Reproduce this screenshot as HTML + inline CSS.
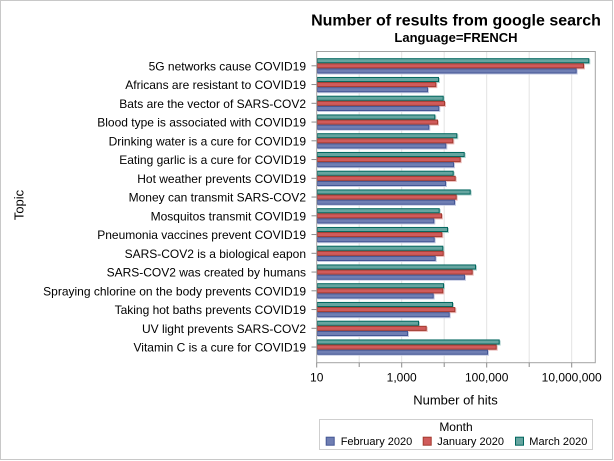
<!DOCTYPE html>
<html><head><meta charset="utf-8"><style>
html,body{margin:0;padding:0;background:#fff;}
svg{display:block;}
text{font-family:"Liberation Sans",Arial,sans-serif;fill:#000;}
.tt{fill:#66a5a0;stroke:#01665e;stroke-width:1;}
.rr{fill:#d05b5b;stroke:#a23a2e;stroke-width:1;}
.bb{fill:#6f7eb3;stroke:#445694;stroke-width:1;}
.ts{fill:#b5d4d1;}
.rs{fill:#ecbcbc;}
.bs{fill:#c5cbe3;}
.lab{font-size:12px;text-anchor:end;}
</style></head><body>
<svg width="614" height="461" viewBox="0 0 614 461" xmlns="http://www.w3.org/2000/svg">
<rect x="0" y="0" width="614" height="461" fill="#fff"/>
<rect x="0.5" y="0.5" width="612" height="459" fill="none" stroke="#c8c8c8" stroke-width="1"/>

<text x="456" y="25.5" font-size="16" font-weight="bold" text-anchor="middle">Number of results from google search</text>
<text x="456" y="42" font-size="13" font-weight="bold" text-anchor="middle">Language=FRENCH</text>

<g stroke="#e3e3e3" stroke-width="1">
<line x1="359.2" y1="52" x2="359.2" y2="362.5"/>
<line x1="401.7" y1="52" x2="401.7" y2="362.5"/>
<line x1="444.2" y1="52" x2="444.2" y2="362.5"/>
<line x1="486.7" y1="52" x2="486.7" y2="362.5"/>
<line x1="529.2" y1="52" x2="529.2" y2="362.5"/>
<line x1="571.7" y1="52" x2="571.7" y2="362.5"/>
</g>

<g id="bars">
<g transform="translate(0,65.8)">
<rect class="ts" x="317.7" y="-6.6" width="272.6" height="5.1"/><rect class="tt" x="317.2" y="-7.1" width="271.6" height="4.1"/>
<rect class="rs" x="317.7" y="-1.5" width="267.3" height="5.1"/><rect class="rr" x="317.2" y="-2.0" width="266.3" height="4.1"/>
<rect class="bs" x="317.7" y="3.6" width="260" height="5.1"/><rect class="bb" x="317.2" y="3.1" width="259" height="4.1"/>
</g>
<g transform="translate(0,84.55)">
<rect class="ts" x="317.7" y="-6.6" width="122.3" height="5.1"/><rect class="tt" x="317.2" y="-7.1" width="121.3" height="4.1"/>
<rect class="rs" x="317.7" y="-1.5" width="119.6" height="5.1"/><rect class="rr" x="317.2" y="-2.0" width="118.6" height="4.1"/>
<rect class="bs" x="317.7" y="3.6" width="111.3" height="5.1"/><rect class="bb" x="317.2" y="3.1" width="110.3" height="4.1"/>
</g>
<g transform="translate(0,103.3)">
<rect class="ts" x="317.7" y="-6.6" width="127" height="5.1"/><rect class="tt" x="317.2" y="-7.1" width="126" height="4.1"/>
<rect class="rs" x="317.7" y="-1.5" width="128.3" height="5.1"/><rect class="rr" x="317.2" y="-2.0" width="127.3" height="4.1"/>
<rect class="bs" x="317.7" y="3.6" width="122.6" height="5.1"/><rect class="bb" x="317.2" y="3.1" width="121.6" height="4.1"/>
</g>
<g transform="translate(0,122.05)">
<rect class="ts" x="317.7" y="-6.6" width="118.6" height="5.1"/><rect class="tt" x="317.2" y="-7.1" width="117.6" height="4.1"/>
<rect class="rs" x="317.7" y="-1.5" width="121.3" height="5.1"/><rect class="rr" x="317.2" y="-2.0" width="120.3" height="4.1"/>
<rect class="bs" x="317.7" y="3.6" width="112.6" height="5.1"/><rect class="bb" x="317.2" y="3.1" width="111.6" height="4.1"/>
</g>
<g transform="translate(0,140.8)">
<rect class="ts" x="317.7" y="-6.6" width="140.6" height="5.1"/><rect class="tt" x="317.2" y="-7.1" width="139.6" height="4.1"/>
<rect class="rs" x="317.7" y="-1.5" width="136.6" height="5.1"/><rect class="rr" x="317.2" y="-2.0" width="135.6" height="4.1"/>
<rect class="bs" x="317.7" y="3.6" width="129.6" height="5.1"/><rect class="bb" x="317.2" y="3.1" width="128.6" height="4.1"/>
</g>
<g transform="translate(0,159.55)">
<rect class="ts" x="317.7" y="-6.6" width="148" height="5.1"/><rect class="tt" x="317.2" y="-7.1" width="147" height="4.1"/>
<rect class="rs" x="317.7" y="-1.5" width="144" height="5.1"/><rect class="rr" x="317.2" y="-2.0" width="143" height="4.1"/>
<rect class="bs" x="317.7" y="3.6" width="137.3" height="5.1"/><rect class="bb" x="317.2" y="3.1" width="136.3" height="4.1"/>
</g>
<g transform="translate(0,178.3)">
<rect class="ts" x="317.7" y="-6.6" width="137" height="5.1"/><rect class="tt" x="317.2" y="-7.1" width="136" height="4.1"/>
<rect class="rs" x="317.7" y="-1.5" width="139" height="5.1"/><rect class="rr" x="317.2" y="-2.0" width="138" height="4.1"/>
<rect class="bs" x="317.7" y="3.6" width="129.3" height="5.1"/><rect class="bb" x="317.2" y="3.1" width="128.3" height="4.1"/>
</g>
<g transform="translate(0,197.05)">
<rect class="ts" x="317.7" y="-6.6" width="154" height="5.1"/><rect class="tt" x="317.2" y="-7.1" width="153" height="4.1"/>
<rect class="rs" x="317.7" y="-1.5" width="140" height="5.1"/><rect class="rr" x="317.2" y="-2.0" width="139" height="4.1"/>
<rect class="bs" x="317.7" y="3.6" width="138.3" height="5.1"/><rect class="bb" x="317.2" y="3.1" width="137.3" height="4.1"/>
</g>
<g transform="translate(0,215.8)">
<rect class="ts" x="317.7" y="-6.6" width="123" height="5.1"/><rect class="tt" x="317.2" y="-7.1" width="122" height="4.1"/>
<rect class="rs" x="317.7" y="-1.5" width="125.3" height="5.1"/><rect class="rr" x="317.2" y="-2.0" width="124.3" height="4.1"/>
<rect class="bs" x="317.7" y="3.6" width="117.6" height="5.1"/><rect class="bb" x="317.2" y="3.1" width="116.6" height="4.1"/>
</g>
<g transform="translate(0,234.55)">
<rect class="ts" x="317.7" y="-6.6" width="131.3" height="5.1"/><rect class="tt" x="317.2" y="-7.1" width="130.3" height="4.1"/>
<rect class="rs" x="317.7" y="-1.5" width="125.6" height="5.1"/><rect class="rr" x="317.2" y="-2.0" width="124.6" height="4.1"/>
<rect class="bs" x="317.7" y="3.6" width="118" height="5.1"/><rect class="bb" x="317.2" y="3.1" width="117" height="4.1"/>
</g>
<g transform="translate(0,253.3)">
<rect class="ts" x="317.7" y="-6.6" width="126.6" height="5.1"/><rect class="tt" x="317.2" y="-7.1" width="125.6" height="4.1"/>
<rect class="rs" x="317.7" y="-1.5" width="127" height="5.1"/><rect class="rr" x="317.2" y="-2.0" width="126" height="4.1"/>
<rect class="bs" x="317.7" y="3.6" width="119" height="5.1"/><rect class="bb" x="317.2" y="3.1" width="118" height="4.1"/>
</g>
<g transform="translate(0,272.05)">
<rect class="ts" x="317.7" y="-6.6" width="159.3" height="5.1"/><rect class="tt" x="317.2" y="-7.1" width="158.3" height="4.1"/>
<rect class="rs" x="317.7" y="-1.5" width="156" height="5.1"/><rect class="rr" x="317.2" y="-2.0" width="155" height="4.1"/>
<rect class="bs" x="317.7" y="3.6" width="148.3" height="5.1"/><rect class="bb" x="317.2" y="3.1" width="147.3" height="4.1"/>
</g>
<g transform="translate(0,290.8)">
<rect class="ts" x="317.7" y="-6.6" width="127.3" height="5.1"/><rect class="tt" x="317.2" y="-7.1" width="126.3" height="4.1"/>
<rect class="rs" x="317.7" y="-1.5" width="126.6" height="5.1"/><rect class="rr" x="317.2" y="-2.0" width="125.6" height="4.1"/>
<rect class="bs" x="317.7" y="3.6" width="117" height="5.1"/><rect class="bb" x="317.2" y="3.1" width="116" height="4.1"/>
</g>
<g transform="translate(0,309.55)">
<rect class="ts" x="317.7" y="-6.6" width="136.3" height="5.1"/><rect class="tt" x="317.2" y="-7.1" width="135.3" height="4.1"/>
<rect class="rs" x="317.7" y="-1.5" width="138.6" height="5.1"/><rect class="rr" x="317.2" y="-2.0" width="137.6" height="4.1"/>
<rect class="bs" x="317.7" y="3.6" width="133" height="5.1"/><rect class="bb" x="317.2" y="3.1" width="132" height="4.1"/>
</g>
<g transform="translate(0,328.3)">
<rect class="ts" x="317.7" y="-6.6" width="102.3" height="5.1"/><rect class="tt" x="317.2" y="-7.1" width="101.3" height="4.1"/>
<rect class="rs" x="317.7" y="-1.5" width="110" height="5.1"/><rect class="rr" x="317.2" y="-2.0" width="109" height="4.1"/>
<rect class="bs" x="317.7" y="3.6" width="91.3" height="5.1"/><rect class="bb" x="317.2" y="3.1" width="90.3" height="4.1"/>
</g>
<g transform="translate(0,347.05)">
<rect class="ts" x="317.7" y="-6.6" width="183" height="5.1"/><rect class="tt" x="317.2" y="-7.1" width="182" height="4.1"/>
<rect class="rs" x="317.7" y="-1.5" width="180" height="5.1"/><rect class="rr" x="317.2" y="-2.0" width="179" height="4.1"/>
<rect class="bs" x="317.7" y="3.6" width="171.3" height="5.1"/><rect class="bb" x="317.2" y="3.1" width="170.3" height="4.1"/>
</g>
</g>

<rect x="316.7" y="51.5" width="278.6" height="311.2" fill="none" stroke="#a3a3a3" stroke-width="1"/>

<g stroke="#8a8a8a" stroke-width="1">
<line x1="311.5" y1="65.8" x2="316.7" y2="65.8"/>
<line x1="311.5" y1="84.55" x2="316.7" y2="84.55"/>
<line x1="311.5" y1="103.3" x2="316.7" y2="103.3"/>
<line x1="311.5" y1="122.05" x2="316.7" y2="122.05"/>
<line x1="311.5" y1="140.8" x2="316.7" y2="140.8"/>
<line x1="311.5" y1="159.55" x2="316.7" y2="159.55"/>
<line x1="311.5" y1="178.3" x2="316.7" y2="178.3"/>
<line x1="311.5" y1="197.05" x2="316.7" y2="197.05"/>
<line x1="311.5" y1="215.8" x2="316.7" y2="215.8"/>
<line x1="311.5" y1="234.55" x2="316.7" y2="234.55"/>
<line x1="311.5" y1="253.3" x2="316.7" y2="253.3"/>
<line x1="311.5" y1="272.05" x2="316.7" y2="272.05"/>
<line x1="311.5" y1="290.8" x2="316.7" y2="290.8"/>
<line x1="311.5" y1="309.55" x2="316.7" y2="309.55"/>
<line x1="311.5" y1="328.3" x2="316.7" y2="328.3"/>
<line x1="311.5" y1="347.05" x2="316.7" y2="347.05"/>
</g>
<g stroke="#8a8a8a" stroke-width="1">
<line x1="316.7" y1="362.7" x2="316.7" y2="367.5"/>
<line x1="359.2" y1="362.7" x2="359.2" y2="367"/>
<line x1="401.7" y1="362.7" x2="401.7" y2="367.5"/>
<line x1="444.2" y1="362.7" x2="444.2" y2="367"/>
<line x1="486.7" y1="362.7" x2="486.7" y2="367.5"/>
<line x1="529.2" y1="362.7" x2="529.2" y2="367"/>
<line x1="571.7" y1="362.7" x2="571.7" y2="367.5"/>
</g>

<g>
<text class="lab" x="306" y="70.3">5G networks cause COVID19</text>
<text class="lab" x="306" y="89.05">Africans are resistant to COVID19</text>
<text class="lab" x="306" y="107.8">Bats are the vector of SARS-COV2</text>
<text class="lab" x="306" y="126.55">Blood type is associated with COVID19</text>
<text class="lab" x="306" y="145.3">Drinking water is a cure for COVID19</text>
<text class="lab" x="306" y="164.05">Eating garlic is a cure for COVID19</text>
<text class="lab" x="306" y="182.8">Hot weather prevents COVID19</text>
<text class="lab" x="306" y="201.55">Money can transmit SARS-COV2</text>
<text class="lab" x="306" y="220.3">Mosquitos transmit COVID19</text>
<text class="lab" x="306" y="239.05">Pneumonia vaccines prevent COVID19</text>
<text class="lab" x="306" y="257.8">SARS-COV2 is a biological eapon</text>
<text class="lab" x="306" y="276.55">SARS-COV2 was created by humans</text>
<text class="lab" x="306" y="295.3">Spraying chlorine on the body prevents COVID19</text>
<text class="lab" x="306" y="314.05">Taking hot baths prevents COVID19</text>
<text class="lab" x="306" y="332.8">UV light prevents SARS-COV2</text>
<text class="lab" x="306" y="351.55">Vitamin C is a cure for COVID19</text>
</g>

<g font-size="12" text-anchor="middle">
<text x="316.7" y="381.5">10</text>
<text x="401.7" y="381.5">1,000</text>
<text x="486.7" y="381.5">100,000</text>
<text x="571.7" y="381.5">10,000,000</text>
</g>

<text x="455.5" y="404.5" font-size="13" text-anchor="middle">Number of hits</text>
<text transform="translate(23.5,205) rotate(-90)" font-size="13" text-anchor="middle">Topic</text>

<rect x="319.5" y="419.5" width="273" height="30" fill="#fff" stroke="#cfcfcf" stroke-width="1"/>
<text x="456" y="431" font-size="12" text-anchor="middle">Month</text>
<rect x="326.2" y="437.2" width="8" height="8" fill="#6f7eb3" stroke="#445694" stroke-width="1"/>
<text x="340.7" y="445" font-size="11">February 2020</text>
<rect x="423.2" y="437.2" width="8" height="8" fill="#d05b5b" stroke="#a23a2e" stroke-width="1"/>
<text x="437.3" y="445" font-size="11">January 2020</text>
<rect x="515.5" y="437.2" width="8" height="8" fill="#66a5a0" stroke="#01665e" stroke-width="1"/>
<text x="529.3" y="445" font-size="11">March 2020</text>
</svg>
</body></html>
